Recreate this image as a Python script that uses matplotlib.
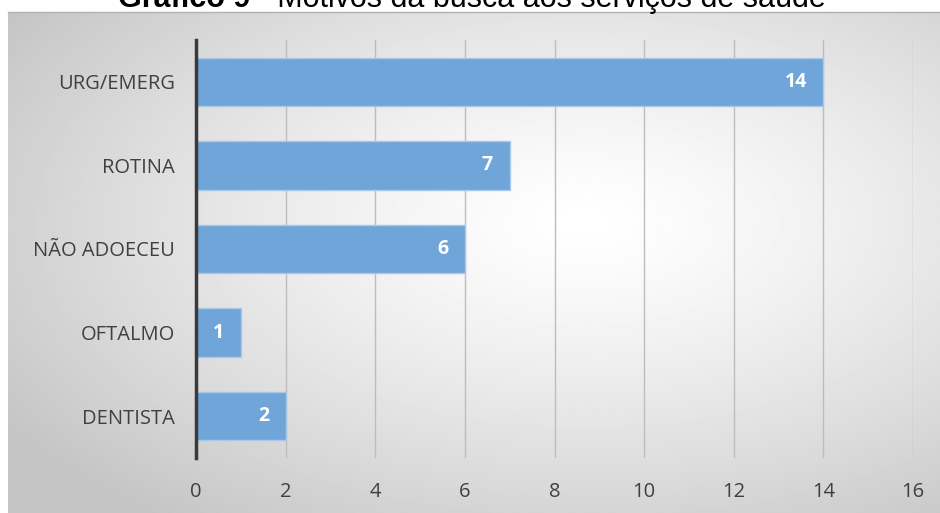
import numpy as np
import matplotlib
matplotlib.use("Agg")
import matplotlib.pyplot as plt

categorias = ["URG/EMERG", "ROTINA", "NÃO ADOECEU", "OFTALMO", "DENTISTA"]
valores = [14, 7, 6, 1, 2]
ticks_x = [0, 2, 4, 6, 8, 10, 12, 14, 16]

W, H = 940, 513
fig = plt.figure(figsize=(W / 100, H / 100), dpi=100)

# fundo com gradiente radial (branco no centro, cinza nas bordas)
bg = fig.add_axes([8 / W, 0, 1 - 8 / W, (H - 12) / H])
yy, xx = np.mgrid[0:1:300j, 0:1:500j]
r = np.sqrt(((xx - 0.62) / 0.75) ** 2 + ((yy - 0.42) / 0.75) ** 2)
r = np.clip(r, 0, 1)
gray = 1.0 - 0.23 * r ** 1.3
bg.imshow(gray, cmap="gray", vmin=0, vmax=1, aspect="auto", extent=[0, 1, 0, 1])
bg.set_axis_off()
fig.add_artist(plt.Line2D([8 / W, 1], [(H - 12) / H] * 2, color="#b0b0b0", lw=1))

ax = fig.add_axes([196 / W, 55 / H, 717 / W, 418 / H])
ax.patch.set_alpha(0)
y = np.arange(len(categorias))
bars = ax.barh(y, valores, height=0.58, color="#6fa5d8", edgecolor="#a9c8e8", linewidth=1, zorder=3)
ax.set_xlim(0, 16)
ax.set_ylim(len(categorias) - 0.5, -0.5)
ax.set_xticks(ticks_x)
ax.set_yticks(y)
ax.set_yticklabels(categorias)
for s in ["top", "right", "bottom"]:
    ax.spines[s].set_visible(False)
ax.spines["left"].set_color("#3a3a3a")
ax.spines["left"].set_linewidth(2.5)
ax.spines["left"].set_zorder(4)
ax.grid(axis="x", color="#bdbdbd", lw=1, zorder=1)
ax.tick_params(length=0)
ax.tick_params(axis="x", pad=17, labelsize=14.5, labelcolor="#404040")
ax.tick_params(axis="y", pad=15, labelsize=14.5, labelcolor="#404040")
for lab in ax.get_xticklabels() + ax.get_yticklabels():
    lab.set_fontfamily("Open Sans")

for b, v in zip(bars, valores):
    ax.annotate(str(v), (v, b.get_y() + b.get_height() / 2), xytext=(-12, 0),
                textcoords="offset points", ha="right", va="center",
                color="white", fontweight="bold", fontsize=14, family="Open Sans", zorder=5)

fig.text(250 / W, 1 - 7 / H, "Gráfico 9", ha="right", va="baseline",
         fontsize=22, fontweight="bold", family="Liberation Sans")
fig.text(250 / W, 1 - 7 / H, " - Motivos da busca aos serviços de saúde", ha="left",
         va="baseline", fontsize=22, family="Liberation Sans")

fig.savefig("out.png", dpi=100)
